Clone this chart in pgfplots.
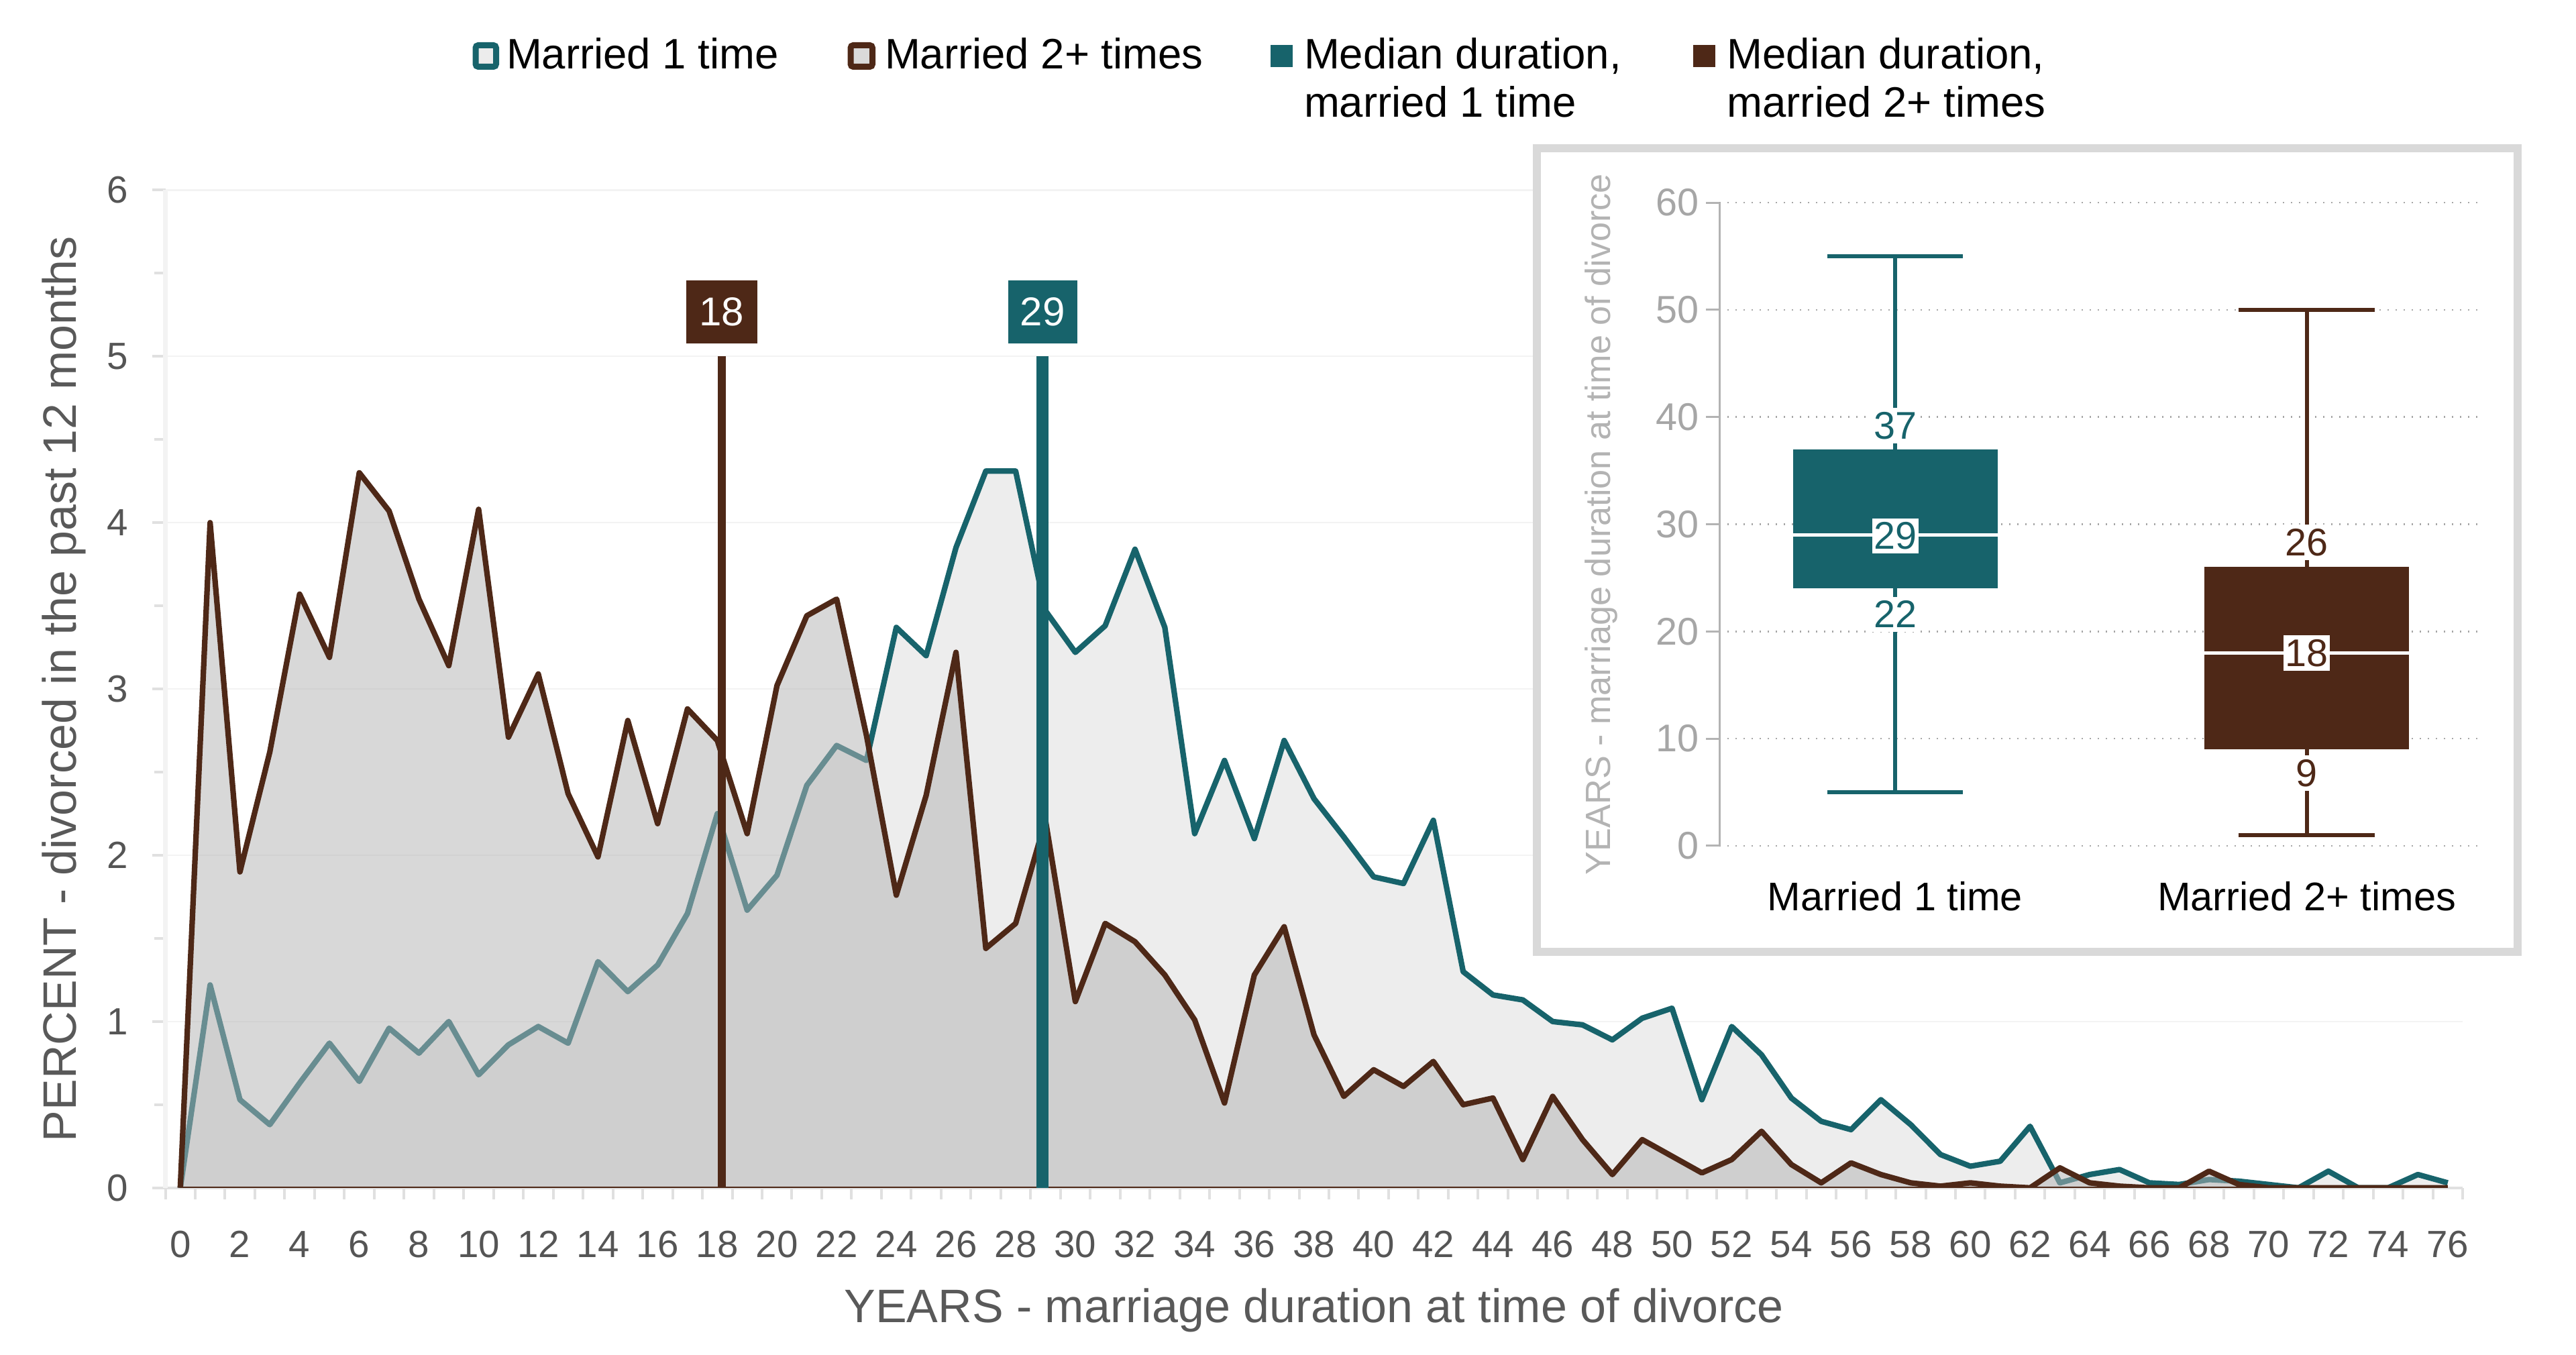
\documentclass[border=0pt]{standalone}
\usepackage{fontspec}
\setmainfont{Liberation Sans}
\usepackage{pgfplots}
\usepackage{pgfplotstable}
\pgfplotsset{compat=1.18}
\usepgfplotslibrary{statistics}
\definecolor{tealc}{HTML}{17636B}
\definecolor{brownc}{HTML}{4E2817}
\definecolor{lfill}{HTML}{EDEDED}
\definecolor{bfill}{HTML}{B4B4B4}
\definecolor{tickc}{HTML}{555555}
\definecolor{labc}{HTML}{595959}
\definecolor{gridc}{HTML}{F3F3F3}
\definecolor{axc}{HTML}{E0E0E0}
\definecolor{inc}{HTML}{A6A6A6}
\definecolor{inl}{HTML}{B3B3B3}
\definecolor{boxb}{HTML}{D9D9D9}
\definecolor{sqa}{HTML}{ECECEC}
\definecolor{sqb}{HTML}{DADADA}

\pgfplotstableread{
x y
0 0
1 1.22
2 0.53
3 0.38
4 0.63
5 0.87
6 0.64
7 0.96
8 0.81
9 1.00
10 0.68
11 0.86
12 0.97
13 0.87
14 1.36
15 1.18
16 1.34
17 1.65
18 2.25
19 1.67
20 1.88
21 2.42
22 2.66
23 2.57
24 3.37
25 3.20
26 3.85
27 4.31
28 4.31
29 3.47
30 3.22
31 3.38
32 3.84
33 3.37
34 2.13
35 2.57
36 2.10
37 2.69
38 2.34
39 2.11
40 1.87
41 1.83
42 2.21
43 1.30
44 1.16
45 1.13
46 1.00
47 0.98
48 0.89
49 1.02
50 1.08
51 0.53
52 0.97
53 0.80
54 0.54
55 0.40
56 0.35
57 0.53
58 0.38
59 0.20
60 0.13
61 0.16
62 0.37
63 0.03
64 0.08
65 0.11
66 0.03
67 0.02
68 0.05
69 0.04
70 0.02
71 0
72 0.10
73 0
74 0
75 0.08
76 0.03
}\tblone

\pgfplotstableread{
x y
0 0
1 4.00
2 1.90
3 2.62
4 3.57
5 3.19
6 4.30
7 4.07
8 3.54
9 3.14
10 4.08
11 2.71
12 3.09
13 2.37
14 1.99
15 2.81
16 2.19
17 2.88
18 2.69
19 2.13
20 3.02
21 3.44
22 3.54
23 2.72
24 1.76
25 2.36
26 3.22
27 1.44
28 1.59
29 2.21
30 1.12
31 1.59
32 1.48
33 1.28
34 1.01
35 0.51
36 1.28
37 1.57
38 0.92
39 0.55
40 0.71
41 0.61
42 0.76
43 0.50
44 0.54
45 0.17
46 0.55
47 0.29
48 0.08
49 0.29
50 0.19
51 0.09
52 0.17
53 0.34
54 0.14
55 0.03
56 0.15
57 0.08
58 0.03
59 0.01
60 0.03
61 0.01
62 0
63 0.12
64 0.03
65 0.01
66 0
67 0
68 0.10
69 0.02
70 0
71 0
72 0
73 0
74 0
75 0
76 0
}\tbltwo

\begin{document}
\begin{tikzpicture}
\useasboundingbox (0,0) rectangle (768pt,404pt);

\begin{axis}[
  at={(49.3pt,49.84pt)}, anchor=south west, scale only axis,
  width=684.9pt, height=297.5pt,
  xmin=-0.5, xmax=76.5, ymin=0, ymax=6,
  axis x line*=bottom, axis y line*=left,
  x axis line style={draw=axc, line width=0.8pt},
  y axis line style={draw=gridc, line width=1.4pt},
  xtick={0,2,...,76}, minor xtick={-0.5,0.5,...,76.5},
  major x tick style={draw=none},
  ytick={0,...,6}, minor ytick={0.5,1.5,...,5.5},
  tick align=outside,
  major tick length=4pt, minor tick length=3.4pt,
  tick style={draw=axc, line width=0.8pt},
  ymajorgrids, grid style={draw=gridc, line width=0.5pt},
  /pgf/number format/assume math mode=true,
  ticklabel style={font=\fontsize{11.3}{13}\selectfont, text=tickc},
  xticklabel style={yshift=-5.4pt},
  yticklabel style={xshift=-3.5pt},
  xlabel={YEARS - marriage duration at time of divorce},
  ylabel={PERCENT - divorced in the past 12 months},
  label style={font=\fontsize{14}{16}\selectfont, text=labc},
  xlabel style={at={(axis description cs:0.5,-0.1346)}, anchor=base},
  ylabel style={at={(axis description cs:-0.0440,0.5)}, anchor=center},
]
\addplot[draw=none, fill=lfill] table[x=x,y=y]{\tblone} \closedcycle;
\addplot[tealc, line width=1.65pt, line join=round] table[x=x,y=y]{\tblone};
\addplot[draw=none, fill=bfill, fill opacity=0.52] table[x=x,y=y]{\tbltwo} \closedcycle;
\addplot[brownc, line width=1.65pt, line join=round] table[x=x,y=y]{\tbltwo};
\addplot[brownc, line width=0.6pt] coordinates {(0,0) (76,0)};
\addplot[brownc, line width=2.3pt] coordinates {(18.15,0) (18.15,5)};
\addplot[tealc, line width=3.5pt] coordinates {(28.9,0) (28.9,5)};
\node[fill=brownc, text=white, minimum width=21.2pt, minimum height=18.7pt, inner sep=0pt,
      anchor=south, yshift=3.7pt, font=\fontsize{12}{14}\selectfont] at (axis cs:18.15,5) {18};
\node[fill=tealc, text=white, minimum width=20.6pt, minimum height=18.7pt, inner sep=0pt,
      anchor=south, yshift=3.7pt, font=\fontsize{12}{14}\selectfont] at (axis cs:28.9,5) {29};
\end{axis}

\fill[white] (457pt,119pt) rectangle (751.8pt,360.9pt);
\draw[boxb, line width=2.4pt] (458.2pt,120.2pt) rectangle (750.6pt,359.7pt);

\begin{axis}[
  at={(512.6pt,151.8pt)}, anchor=south west, scale only axis,
  width=227.4pt, height=191.8pt,
  xmin=0.573, xmax=2.426, ymin=0, ymax=60,
  axis y line*=left, axis x line*=bottom,
  x axis line style={draw=none},
  y axis line style={draw=inl, line width=0.6pt},
  ytick={0,10,...,60}, xtick={1,2},
  xticklabels={Married 1 time, Married 2+ times},
  tick align=outside, major tick length=4pt,
  x tick style={draw=none}, y tick style={draw=inl, line width=0.6pt},
  ymajorgrids, grid style={dotted, draw=inc, line width=0.5pt},
  /pgf/number format/assume math mode=true,
  yticklabel style={font=\fontsize{11.5}{13}\selectfont, text=inc, xshift=1.5pt},
  xticklabel style={font=\fontsize{11.9}{14}\selectfont, text=black, anchor=center, yshift=-11pt},
  ylabel={YEARS - marriage duration at time of divorce},
  ylabel style={font=\fontsize{10.45}{12}\selectfont, text=inl, at={(axis description cs:-0.1548,0.5)}, anchor=center},
  boxplot/draw direction=y,
  clip=false,
]
\addplot[tealc, fill=tealc, line width=1.2pt,
  boxplot prepared={draw position=1, lower whisker=5, lower quartile=24, median=29,
    upper quartile=37, upper whisker=55, box extend=0.497, whisker extend=0.33,
    every median/.style={draw=white, line width=1pt},
    every box/.style={draw=none, fill=tealc}}] coordinates {};
\addplot[brownc, fill=brownc, line width=1.2pt,
  boxplot prepared={draw position=2, lower whisker=1, lower quartile=9, median=18,
    upper quartile=26, upper whisker=50, box extend=0.497, whisker extend=0.33,
    every median/.style={draw=white, line width=1pt},
    every box/.style={draw=none, fill=brownc}}] coordinates {};
\node[fill=white, inner xsep=0.8pt, inner ysep=1.2pt, text=tealc, font=\fontsize{11.5}{13}\selectfont] at (axis cs:1,39.2) {37};
\node[fill=white, inner xsep=0.5pt, inner ysep=1.2pt, text=tealc, font=\fontsize{11.5}{13}\selectfont] at (axis cs:1,28.9) {29};
\node[fill=white, inner xsep=0.8pt, inner ysep=1.2pt, text=tealc, font=\fontsize{11.5}{13}\selectfont] at (axis cs:1,21.6) {22};
\node[fill=white, inner xsep=0.8pt, inner ysep=1.2pt, text=brownc, font=\fontsize{11.5}{13}\selectfont] at (axis cs:2,28.3) {26};
\node[fill=white, inner xsep=0.5pt, inner ysep=1.2pt, text=brownc, font=\fontsize{11.5}{13}\selectfont] at (axis cs:2,18) {18};
\node[fill=white, inner xsep=0.8pt, inner ysep=1.2pt, text=brownc, font=\fontsize{11.5}{13}\selectfont] at (axis cs:2,6.8) {9};
\end{axis}

% legend
\draw[tealc, line width=1.8pt, rounded corners=0.8pt, fill=sqa] (141.8pt,384.1pt) rectangle (147.9pt,390.5pt);
\draw[brownc, line width=1.8pt, rounded corners=0.8pt, fill=sqb] (253.6pt,384.1pt) rectangle (260.1pt,390.5pt);
\fill[tealc] (378.7pt,383.9pt) rectangle (385.4pt,390.5pt);
\fill[brownc] (504.8pt,383.9pt) rectangle (511.4pt,390.5pt);
\begin{scope}[every node/.style={anchor=base west, inner sep=0pt, font=\fontsize{12.7}{15}\selectfont}]
\node at (150.8pt,383.5pt) {Married 1 time};
\node at (263.6pt,383.5pt) {Married 2+ times};
\node at (388.6pt,383.5pt) {Median duration,};
\node at (388.6pt,369pt) {married 1 time};
\node at (514.7pt,383.5pt) {Median duration,};
\node at (514.7pt,369pt) {married 2+ times};
\end{scope}
\end{tikzpicture}
\end{document}
